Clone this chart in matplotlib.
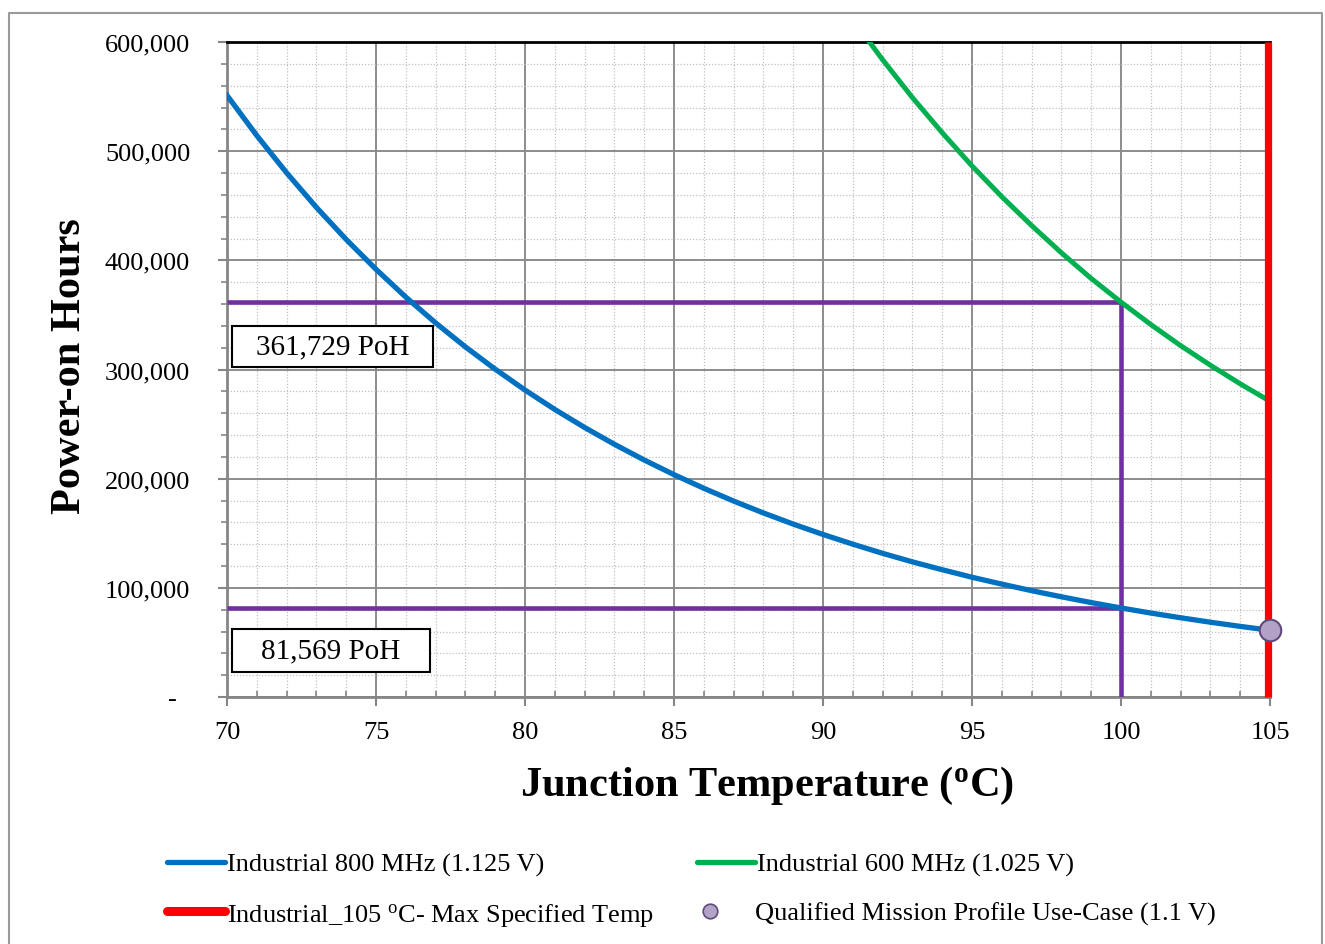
import matplotlib
matplotlib.use("Agg")
import matplotlib.pyplot as plt
from matplotlib.lines import Line2D
from matplotlib.patches import Rectangle
from matplotlib.ticker import MultipleLocator, FuncFormatter

plt.rcParams['font.family'] = ['Liberation Serif', 'DejaVu Serif']
plt.rcParams['mathtext.fontset'] = 'custom'
plt.rcParams['mathtext.rm'] = 'Liberation Serif'
plt.rcParams['mathtext.bf'] = 'Liberation Serif:bold'
plt.rcParams['mathtext.it'] = 'Liberation Serif:italic'

# temperature (C) and power-on hours
temp_800 = list(range(70, 106))
poh_800 = [551100, 514300, 480200, 448500, 419100, 391800, 366300, 342700,
           320700, 300300, 281200, 263400, 246900, 231500, 217100, 203700,
           191200, 179500, 168600, 158400, 148900, 140000, 131600, 123800,
           116600, 109700, 103400, 97400, 91800, 86500, 81569, 76900,
           72600, 68500, 64700, 61100]

temp_600 = list(range(91, 106))
poh_600 = [620700, 583800, 549100, 516900, 486500, 458300, 431900, 406900,
           383400, 361729, 341200, 321900, 303900, 286900, 270900]

max_temp = 105
mission_temp = 105
mission_poh = 61100
ref_temp = 100
ref_poh_800 = 81569
ref_poh_600 = 361729

labels = ['Industrial 800 MHz (1.125 V)', 'Industrial 600 MHz (1.025 V)',
          'Industrial_105 $^{\\mathrm{o}}$C- Max Specified Temp',
          'Qualified Mission Profile Use-Case (1.1 V)']

W, H = 1325, 945
fig = plt.figure(figsize=(W / 100, H / 100), dpi=100)
ax = fig.add_axes([227/W, 1-698/H, 1043/W, 655/H])

c_blue = '#0070C0'
c_green = '#00B050'
c_purple = '#7030A0'
c_red = '#FF0000'
m_face = '#B3A2C7'
m_edge = '#604A7B'

# reference lines
ax.plot([70, ref_temp], [ref_poh_600, ref_poh_600], color=c_purple, lw=3.3, zorder=3, solid_capstyle='butt')
ax.plot([70, ref_temp], [ref_poh_800, ref_poh_800], color=c_purple, lw=3.3, zorder=3, solid_capstyle='butt')
ax.plot([ref_temp, ref_temp], [0, ref_poh_600], color=c_purple, lw=3.3, zorder=3, solid_capstyle='butt')

ax.plot(temp_800, poh_800, color=c_blue, lw=3.8, zorder=4)
ax.plot(temp_600, poh_600, color=c_green, lw=3.6, zorder=4)
ax.plot([max_temp - 0.08, max_temp - 0.08], [0, 600000], color=c_red, lw=5.2, zorder=5,
        solid_capstyle='butt', clip_on=False)
ax.plot([mission_temp], [mission_poh], 'o', ms=15.5, mfc=m_face, mec=m_edge, mew=1.5, zorder=6, clip_on=False)

ax.set_xlim(70, 105)
ax.set_ylim(0, 600000)
ax.xaxis.set_major_locator(MultipleLocator(5))
ax.xaxis.set_minor_locator(MultipleLocator(1))
ax.yaxis.set_major_locator(MultipleLocator(100000))
ax.yaxis.set_minor_locator(MultipleLocator(20000))
ax.yaxis.set_major_formatter(FuncFormatter(lambda v, p: '-  ' if v == 0 else f'{int(v):,}'))

ax.grid(which='major', color='#8C8C8C', lw=1.4, zorder=1)
ax.grid(which='minor', color='#C0C0C0', lw=0.9, ls=(0, (1, 1.5)), zorder=0)
ax.set_axisbelow(True)

for s in ['left', 'bottom']:
    ax.spines[s].set_color('#868686')
    ax.spines[s].set_linewidth(2)
ax.spines['top'].set_color('black')
ax.spines['top'].set_linewidth(2)
ax.spines['right'].set_visible(False)

ax.tick_params(axis='both', which='major', color='#868686', width=1.5, length=6.5, labelsize=19)
ax.tick_params(axis='y', which='major', pad=20)
ax.tick_params(axis='x', which='major', pad=11)
ax.tick_params(axis='y', which='minor', color='#868686', width=1.2, length=4, direction='out')
ax.tick_params(axis='x', which='minor', color='#868686', width=1.2, length=4, direction='in')

ax.set_xlabel('Junction Temperature ($^{\\mathbf{o}}$C)', fontsize=30.5, fontweight='bold')
ax.xaxis.set_label_coords((767 - 227) / 1043, -(786 - 698) / 655)
ax.xaxis.label.set_va('center')
ax.set_ylabel('Power-on Hours', fontsize=30.5, fontweight='bold')
ax.yaxis.set_label_coords(-(227 - 70) / 1043, (698 - 366) / 655)
ax.yaxis.label.set_va('center')

# value boxes
for (x0, x1, y0, y1, txt) in [(0.0048, 0.1975, 0.5038, 0.5664, f'{ref_poh_600:,} PoH'),
                              (0.0048, 0.1946, 0.0382, 0.1038, f'{ref_poh_800:,} PoH')]:
    ax.add_patch(Rectangle((x0, y0), x1 - x0, y1 - y0, transform=ax.transAxes,
                           fc='white', ec='black', lw=1.5, zorder=7))
    ax.text((x0 + x1) / 2, (y0 + y1) / 2, txt, transform=ax.transAxes, fontsize=21,
            ha='center', va='center', zorder=8)

# chart area border
fig.add_artist(Line2D([9/W, 9/W, 1322/W, 1322/W], [0, 1-14/H, 1-14/H, 0],
                      transform=fig.transFigure, color='#9A9A9A', lw=1.5))

# legend, laid out by hand in figure pixels
def fx(px):
    return px / W

def fy(py):
    return 1 - py / H

leg = [(167, 863, dict(color=c_blue, lw=3.8), 227, labels[0]),
       (697, 863, dict(color=c_green, lw=3.8), 757, labels[1]),
       (167, 912, dict(color=c_red, lw=6.5), 227, labels[2])]
for hx, hy, style, tx, lab in leg:
    fig.add_artist(Line2D([fx(hx), fx(hx + 58)], [fy(hy), fy(hy)], transform=fig.transFigure,
                          solid_capstyle='round', **style))
    fig.text(fx(tx), fy(hy), lab, fontsize=19, ha='left', va='center_baseline')
fig.add_artist(Line2D([fx(710)], [fy(912)], transform=fig.transFigure, ls='none', marker='o',
                      ms=10.5, mfc=m_face, mec=m_edge, mew=1.2))
fig.text(fx(755), fy(912), labels[3], fontsize=19, ha='left', va='center_baseline')

fig.savefig('out.png', dpi=100)
